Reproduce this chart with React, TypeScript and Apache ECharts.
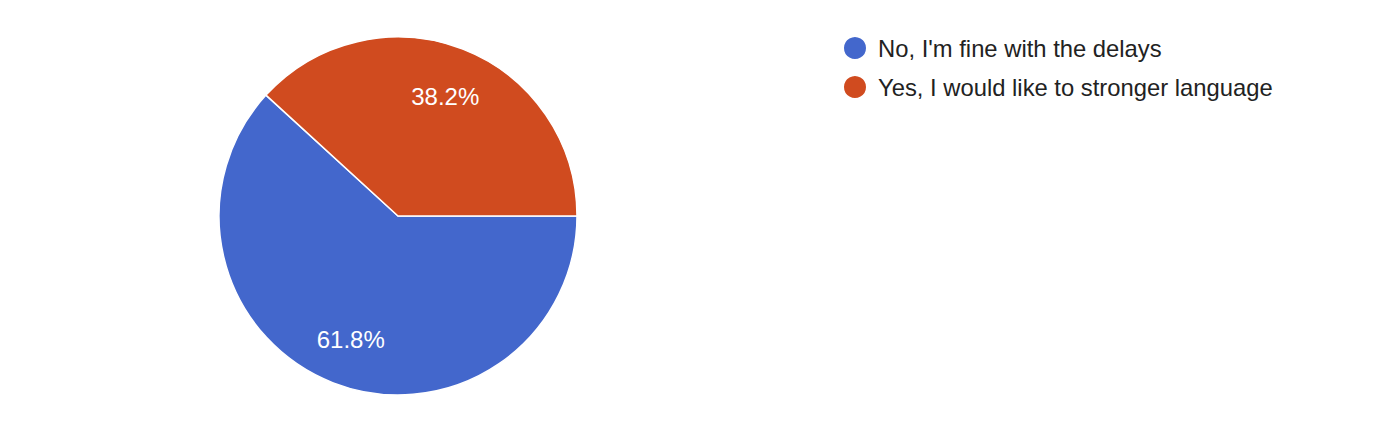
import React, { useEffect, useRef } from "react";
import * as echarts from "echarts";

const categories = ["No, I'm fine with the delays", "Yes, I would like to stronger language"];
const values = [61.8, 38.2];
const colors = ["#4367cc", "#d04b1f"];

export default function App() {
  const ref = useRef<HTMLDivElement>(null);
  useEffect(() => {
    document.body.style.margin = "0";
    const chart = echarts.init(ref.current!, null, { renderer: "svg" });
    const data = categories.map((name, i) => ({ name, value: values[i], itemStyle: { color: colors[i] } }));
    chart.setOption({
      animation: false,
      backgroundColor: "#ffffff",
      legend: {
        orient: "vertical",
        left: 837,
        top: 30,
        icon: "circle",
        itemWidth: 24,
        itemHeight: 24,
        itemGap: 13,
        textStyle: {
          fontSize: 23.8,
          lineHeight: 24,
          color: "#222222",
          fontFamily: "Liberation Sans, Arial, sans-serif",
          padding: [0, 0, 0, 6],
        },
        data: categories,
      },
      series: [
        {
          type: "pie",
          center: [398, 216],
          radius: [0, 179],
          startAngle: 0,
          clockwise: true,
          silent: true,
          label: { show: false },
          labelLine: { show: false },
          itemStyle: { borderColor: "#ffffff", borderWidth: 1.5 },
          data,
        },
        {
          type: "pie",
          center: [398, 218],
          radius: [76, 179],
          startAngle: 0,
          clockwise: true,
          silent: true,
          legendHoverLink: false,
          itemStyle: { color: "rgba(0,0,0,0)", borderWidth: 0 },
          label: {
            show: true,
            position: "inside",
            formatter: (p: any) => p.value.toFixed(1) + "%",
            color: "#ffffff",
            fontSize: 24,
            fontFamily: "Liberation Sans, Arial, sans-serif",
          },
          labelLine: { show: false },
          data: categories.map((name, i) => ({ name: name + " ", value: values[i] })),
        },
      ],
    });
    return () => chart.dispose();
  }, []);
  return <div ref={ref} style={{ width: 1382, height: 434 }} />;
}
